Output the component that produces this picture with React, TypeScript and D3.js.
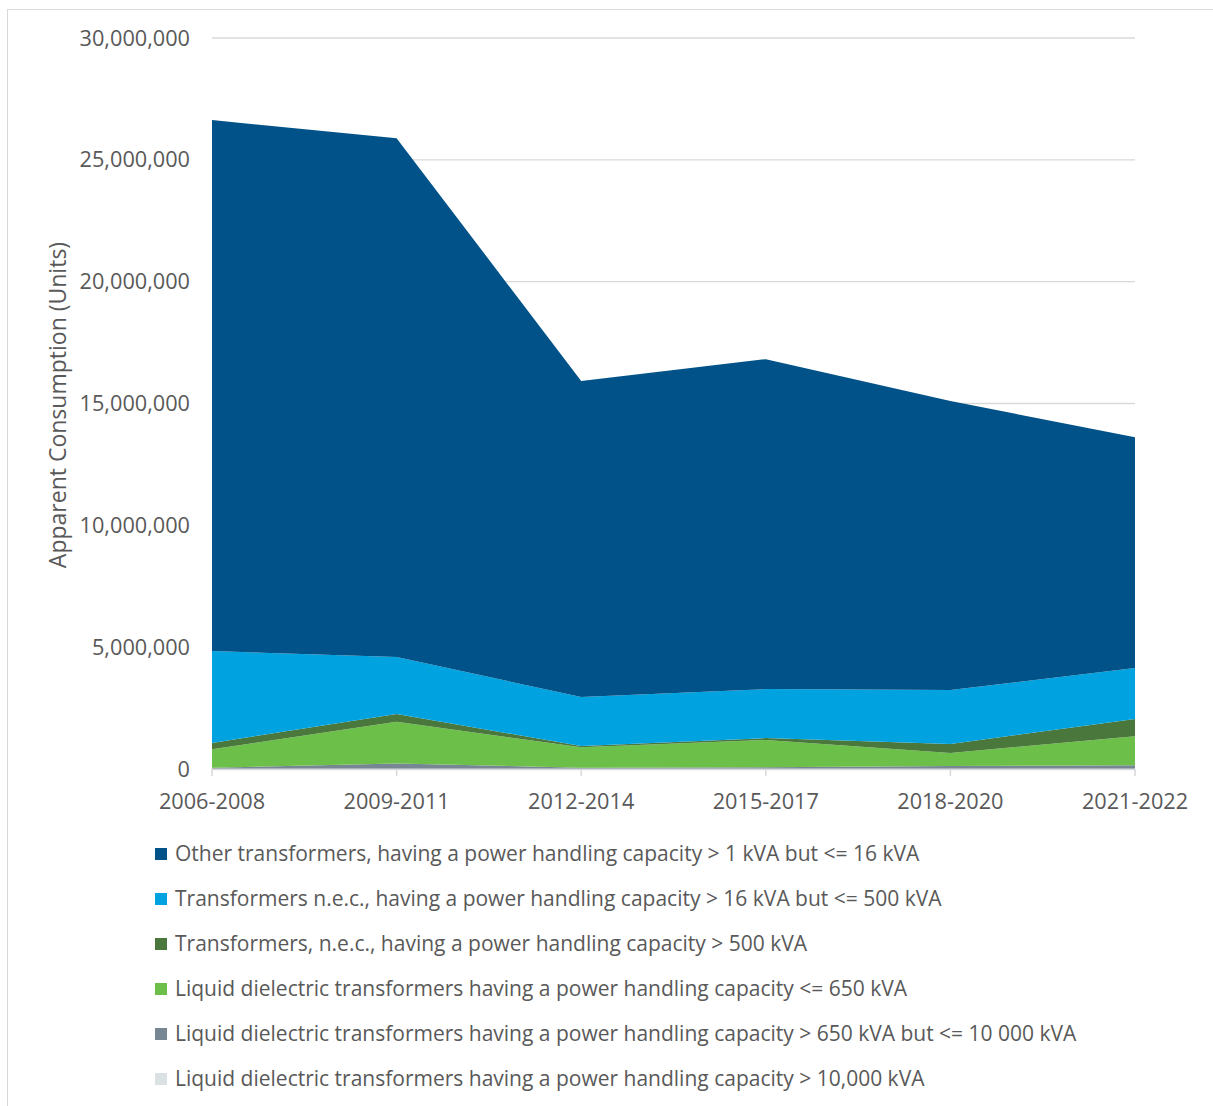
import React from "react";
import * as d3 from "d3";

const categories = ["2006-2008", "2009-2011", "2012-2014", "2015-2017", "2018-2020", "2021-2022"];
const seriesNames = [
  "Liquid dielectric transformers having a power handling capacity > 10,000 kVA",
  "Liquid dielectric transformers having a power handling capacity > 650 kVA but <= 10 000 kVA",
  "Liquid dielectric transformers having a power handling capacity <= 650 kVA",
  "Transformers, n.e.c., having a power handling capacity > 500 kVA",
  "Transformers n.e.c., having a power handling capacity > 16 kVA but <= 500 kVA",
  "Other transformers, having a power handling capacity > 1 kVA but <= 16 kVA",
];
const liquidOver10000 = [10000, 15000, 8000, 8000, 10000, 15000];
const liquid650to10000 = [40000, 215000, 42000, 62000, 110000, 135000];
const liquidUpTo650 = [760000, 1710000, 840000, 1120000, 540000, 1190000];
const necOver500 = [260000, 320000, 50000, 80000, 370000, 710000];
const nec16to500 = [3770000, 2340000, 2010000, 2010000, 2210000, 2090000];
const other1to16 = [21790000, 21290000, 12970000, 13540000, 11860000, 9480000];
const colors = ["#D9E1E2", "#768692", "#6CC04A", "#4A773C", "#00A3E0", "#005288"];
const yTicks = [0, 5000000, 10000000, 15000000, 20000000, 25000000, 30000000];

const values = [liquidOver10000, liquid650to10000, liquidUpTo650, necOver500, nec16to500, other1to16];

export default function App() {
  const font = "'Open Sans', sans-serif";
  const x = d3.scalePoint<string>().domain(categories).range([212, 1135]);
  const y = d3.scaleLinear().domain([0, 30000000]).range([769, 38]);
  const rows = categories.map((c, i) => {
    const r: any = { cat: c };
    values.forEach((v, k) => (r[k] = v[i]));
    return r;
  });
  const stack = d3.stack<any>().keys(values.map((_, k) => String(k)));
  const layers = stack(rows);
  const area = d3
    .area<any>()
    .x((d) => x(d.data.cat) as number)
    .y0((d) => y(d[0]))
    .y1((d) => y(d[1]));
  const fmt = d3.format(",");
  const legendOrder = [5, 4, 3, 2, 1, 0];
  return (
    <svg width={1213} height={1106} style={{ position: "absolute", left: 0, top: 0 }} fontFamily={font}>
      <rect x={0} y={0} width={1213} height={1106} fill="#fff" />
      <rect x={7.5} y={9.5} width={1220} height={1120} fill="none" stroke="#D9D9D9" />
      {yTicks.map((t) => (
        <g key={t}>
          {t > 0 && <line x1={212} x2={1135} y1={y(t)} y2={y(t)} stroke="#D9D9D9" strokeWidth={1.3} />}
          <text x={190} y={y(t)} dy="0.35em" textAnchor="end" fontSize={21.7} fill="#595959">
            {fmt(t)}
          </text>
        </g>
      ))}
      {layers.map((l, k) => (
        <path key={k} d={area(l as any) || ""} fill={colors[k]} />
      ))}
      <line x1={212} x2={1135} y1={769.5} y2={769.5} stroke="#D9D9D9" strokeWidth={1.5} />
      {categories.map((c) => (
        <g key={c}>
          <line x1={x(c)} x2={x(c)} y1={769} y2={776} stroke="#D9D9D9" strokeWidth={1.5} />
          <text x={x(c)} y={801} dy="0.35em" textAnchor="middle" fontSize={21.7} fill="#595959">
            {c}
          </text>
        </g>
      ))}
      <text
        transform={`translate(58,405) rotate(-90)`}
        textAnchor="middle"
        dy="0.35em"
        fontSize={23}
        fill="#595959"
      >
        Apparent Consumption (Units)
      </text>
      {legendOrder.map((k, i) => (
        <g key={k} transform={`translate(155,${854 + i * 45})`}>
          <rect x={0} y={-6} width={12} height={12} fill={colors[k]} />
          <text x={20} y={0} dy="0.35em" fontSize={21} fill="#595959">
            {seriesNames[k]}
          </text>
        </g>
      ))}
    </svg>
  );
}
